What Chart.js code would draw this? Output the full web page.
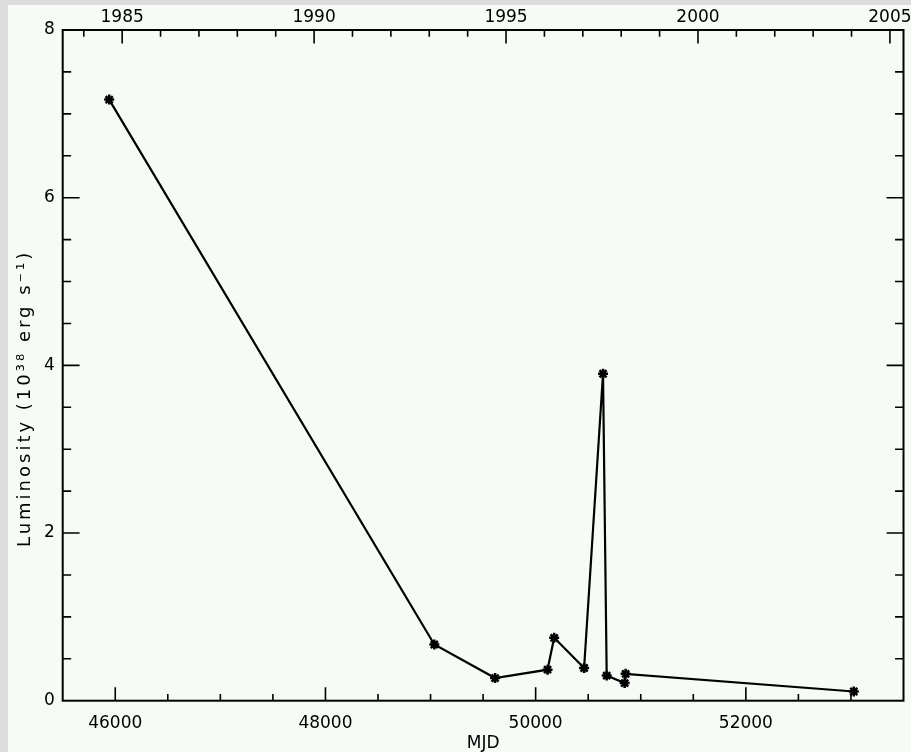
<!DOCTYPE html>
<html><head><meta charset="utf-8">
<script src="https://cdn.jsdelivr.net/npm/chart.js@4"></script>
<style>
html,body{margin:0;padding:0;background:#dcdcdc;overflow:hidden;width:911px;height:752px}
#wrap{position:absolute;left:8px;top:5px;width:903px;height:747px;background:#f6fbf6}
</style></head><body><div id="wrap"><canvas id="c"></canvas></div>
<script>
// ---- data ----
const mjd        = [45942, 49036, 49614, 50113, 50176, 50461, 50641, 50676, 50847, 50856, 53027];
const luminosity = [7.17,  0.67,  0.27,  0.37,  0.75,  0.39,  3.90,  0.30,  0.21,  0.32,  0.11];
const mjdTicks   = [46000, 48000, 50000, 52000];
const yearTicks  = [1985, 1990, 1995, 2000, 2005];
const lumTicks   = [0, 2, 4, 6, 8];
const mjdRange   = [45500, 53500];
const lumRange   = [0, 8];
const xTitle = 'MJD';
const yTitle = 'Luminosity (10³⁸ erg s⁻¹)';

const F = 'DejaVu Sans';
const yearOf = m => 2000 + (m - 51544.5) / 365.25;

const framePlugin = {
  id: 'frame',
  beforeDraw(chart) {
    const s = chart.scales.y;
    if (s && !s._wrappedTitle) {
      const orig = s.drawTitle.bind(s);
      s.drawTitle = function () {
        const ctx = this.ctx;
        ctx.save();
        ctx.translate(0, 33);
        try { ctx.letterSpacing = '3px'; } catch (e) {}
        orig();
        ctx.restore();
      };
      s._wrappedTitle = true;
    }
  },
  afterDraw(chart) {
    const { ctx, chartArea: a, scales } = chart;
    const x = scales.x, xt = scales.xTop, y = scales.y;
    ctx.save();
    ctx.strokeStyle = '#000';
    ctx.lineWidth = 2;
    ctx.strokeRect(a.left, a.top, a.right - a.left, a.bottom - a.top);
    ctx.lineWidth = 1.6;
    const XL = 13.4, YL = 16.9;
    ctx.beginPath();
    for (let v = mjdRange[0] + 500; v < mjdRange[1]; v += 500) {
      const px = x.getPixelForValue(v);
      const L = mjdTicks.includes(v) ? XL : XL / 2;
      ctx.moveTo(px, a.bottom); ctx.lineTo(px, a.bottom - L);
    }
    for (let v = Math.ceil(xt.min); v <= xt.max; v += 1) {
      const px = xt.getPixelForValue(v);
      const L = yearTicks.includes(v) ? XL : XL / 2;
      ctx.moveTo(px, a.top); ctx.lineTo(px, a.top + L);
    }
    for (let v = lumRange[0] + 0.5; v < lumRange[1]; v += 0.5) {
      const py = y.getPixelForValue(v);
      const L = lumTicks.includes(v) ? YL : YL / 2;
      ctx.moveTo(a.left, py); ctx.lineTo(a.left + L, py);
      ctx.moveTo(a.right, py); ctx.lineTo(a.right - L, py);
    }
    ctx.stroke();
    ctx.restore();
  }
};

new Chart(document.getElementById('c'), {
  type: 'line',
  data: {
    datasets: [{
      data: mjd.map((m, i) => ({ x: m, y: luminosity[i] })),
      borderColor: '#000',
      borderWidth: 2.2,
      pointStyle: 'star',
      pointRadius: 5,
      pointBorderWidth: 2.5,
      pointBorderColor: '#000',
      pointBackgroundColor: '#000',
      tension: 0,
      xAxisID: 'x',
      yAxisID: 'y'
    }]
  },
  options: {
    responsive: true,
    maintainAspectRatio: false,
    animation: false,
    layout: { padding: { left: 0, top: 0, right: 4.3, bottom: 0 } },
    plugins: { legend: { display: false }, tooltip: { enabled: false } },
    scales: {
      x: {
        type: 'linear', position: 'bottom', min: mjdRange[0], max: mjdRange[1],
        grid: { display: false, drawTicks: false }, border: { display: false },
        ticks: { font: { family: F, size: 17, lineHeight: 1.2 }, color: '#000', padding: 13, maxRotation: 0, autoSkip: false, callback: v => String(v) },
        afterBuildTicks: s => { s.ticks = mjdTicks.map(v => ({ value: v })); },
        title: { display: true, text: xTitle, color: '#000', font: { family: F, size: 17, lineHeight: 1 }, padding: { top: 0, bottom: 0 } },
        afterFit: s => { s.height = 51.3; s.paddingLeft = 0; s.paddingRight = 0; }
      },
      xTop: {
        type: 'linear', position: 'top', min: yearOf(mjdRange[0]), max: yearOf(mjdRange[1]),
        grid: { display: false, drawTicks: false }, border: { display: false },
        ticks: { font: { family: F, size: 17, lineHeight: 1.2 }, color: '#000', padding: 2, maxRotation: 0, autoSkip: false, callback: v => String(v) },
        afterBuildTicks: s => { s.ticks = yearTicks.map(v => ({ value: v })); },
        afterFit: s => { s.height = 25; s.paddingLeft = 0; s.paddingRight = 0; }
      },
      y: {
        type: 'linear', position: 'left', min: lumRange[0], max: lumRange[1],
        grid: { display: false, drawTicks: false }, border: { display: false },
        ticks: { font: { family: F, size: 17, lineHeight: 1.2 }, color: '#000', padding: 8, autoSkip: false, callback: v => String(v) },
        afterBuildTicks: s => { s.ticks = lumTicks.map(v => ({ value: v })); },
        title: { display: true, text: yTitle, color: '#000', font: { family: F, size: 18, lineHeight: 1 }, padding: { top: 8, bottom: 0 } },
        afterFit: s => { s.width = 54.7; s.paddingTop = 0; s.paddingBottom = 0; }
      }
    }
  },
  plugins: [framePlugin]
});
</script></body></html>
